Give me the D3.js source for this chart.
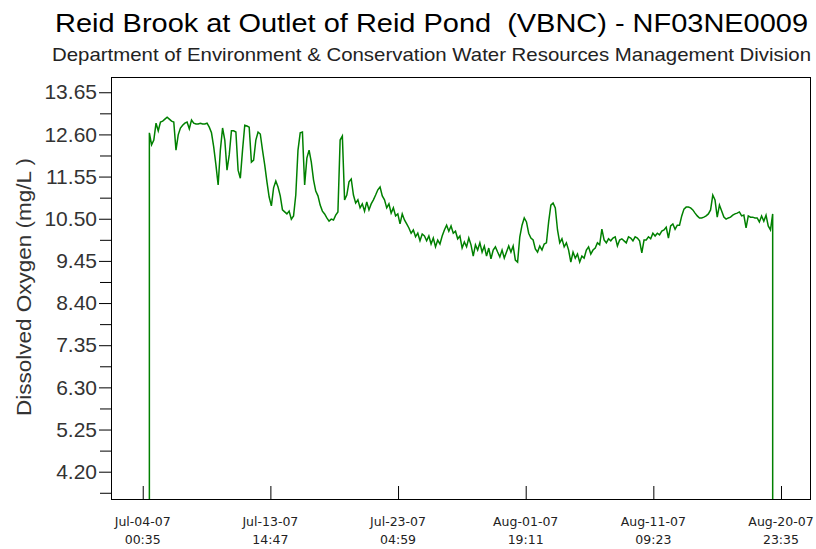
<!DOCTYPE html>
<html>
<head>
<meta charset="utf-8">
<script src="https://cdn.jsdelivr.net/npm/d3@7"></script>
<style>
  body { margin: 0; background: #fff; }
  svg { display: block; }
</style>
</head>
<body>
<svg id="chart" width="816" height="549"></svg>
<script>
// dissolved oxygen (mg/L), one reading every 4 hours starting Jul-04-07 12:35
const readings = [
  12.64, 12.34, 12.46, 12.88, 12.69, 12.91, 12.93, 12.98, 13.03, 12.98,
  12.93, 12.91, 12.21, 12.59, 12.76, 12.83, 12.88, 12.91, 12.74, 12.96,
  12.88, 12.86, 12.86, 12.88, 12.86, 12.86, 12.88, 12.78, 12.64, 12.29,
  11.84, 11.34, 12.21, 12.76, 12.46, 11.71, 12.09, 12.69, 12.69, 12.66,
  11.71, 11.51, 12.21, 12.83, 12.81, 12.78, 11.91, 11.96, 12.46, 12.66,
  12.61, 12.21, 11.84, 11.42, 11.04, 10.82, 11.27, 11.44, 11.29, 11.07,
  10.72, 10.67, 10.62, 10.69, 10.49, 10.57, 11.09, 12.21, 12.64, 12.66,
  11.34, 12.01, 12.21, 11.91, 11.47, 11.19, 11.07, 10.84, 10.69, 10.62,
  10.52, 10.44, 10.49, 10.47, 10.59, 10.67, 12.46, 12.56, 10.97, 11.09,
  11.42, 11.49, 11.09, 10.89, 10.97, 10.77, 10.87, 10.69, 10.92, 10.72,
  10.87, 10.97, 11.09, 11.22, 11.29, 11.07, 10.97, 10.77, 10.87, 10.64,
  10.77, 10.57, 10.62, 10.37, 10.62, 10.47, 10.37, 10.27, 10.14, 10.22,
  10.05, 10.14, 9.95, 10.12, 10.07, 9.95, 10.07, 9.87, 10.02, 9.80,
  9.97, 9.87, 10.07, 10.22, 10.34, 10.19, 10.32, 10.14, 10.19, 10.00,
  10.07, 9.77, 9.92, 9.80, 10.02, 9.85, 9.57, 9.85, 9.72, 9.90,
  9.67, 9.82, 9.57, 9.77, 9.50, 9.72, 9.80, 9.67, 9.55, 9.72,
  9.52, 9.67, 9.82, 9.67, 9.82, 9.47, 9.42, 10.05, 10.34, 10.52,
  10.42, 10.14, 10.02, 9.97, 9.75, 9.67, 9.82, 9.72, 9.87, 9.90,
  10.42, 10.84, 10.89, 10.77, 10.22, 9.90, 10.00, 9.80, 9.90, 9.72,
  9.42, 9.67, 9.52, 9.62, 9.42, 9.57, 9.52, 9.72, 9.80, 9.62,
  9.72, 9.77, 9.90, 9.85, 10.24, 9.97, 9.90, 10.00, 9.95, 10.02,
  10.05, 9.82, 9.97, 10.00, 9.95, 9.90, 10.05, 10.02, 9.95, 10.05,
  10.02, 9.95, 9.65, 9.97, 9.97, 10.05, 10.00, 10.14, 10.07, 10.14,
  10.10, 10.19, 10.22, 10.29, 10.02, 10.32, 10.37, 10.24, 10.34, 10.34,
  10.57, 10.74, 10.79, 10.79, 10.77, 10.72, 10.64, 10.57, 10.52, 10.52,
  10.54, 10.57, 10.62, 10.72, 11.09, 10.97, 10.54, 10.84, 10.69, 10.54,
  10.49, 10.52, 10.54, 10.59, 10.62, 10.64, 10.67, 10.57, 10.59, 10.27,
  10.57, 10.54, 10.54, 10.52, 10.52, 10.42, 10.57, 10.44, 10.59, 10.32,
  10.22, 10.62
];
const firstReading = new Date(2007, 6, 4, 12, 35);
const stepHours = 4;
const outOfWater = 0; // logger reading before deployment / after pickup

const yTicks = [4.20, 5.25, 6.30, 7.35, 8.40, 9.45, 10.50, 11.55, 12.60, 13.65];
const xTicks = [
  new Date(2007, 6, 4, 0, 35),
  new Date(2007, 6, 13, 14, 47),
  new Date(2007, 6, 23, 4, 59),
  new Date(2007, 7, 1, 19, 11),
  new Date(2007, 7, 11, 9, 23),
  new Date(2007, 7, 20, 23, 35)
];

const title = "Reid Brook at Outlet of Reid Pond  (VBNC) - NF03NE0009";
const subtitle = "Department of Environment & Conservation Water Resources Management Division";
const yLabel = "Dissolved Oxygen (mg/L )";

// build points
let points = readings.map((v, i) => ({t: d3.timeHour.offset(firstReading, i * stepHours), v: v}));
points.unshift({t: points[0].t, v: outOfWater});
points.push({t: points[points.length - 1].t, v: outOfWater});

const plot = {left: 111, top: 77, right: 811, bottom: 500};

const x = d3.scaleTime()
    .domain([new Date(2007, 6, 1, 15, 23), new Date(2007, 7, 23, 5, 41)])
    .range([plot.left, plot.right]);
const y = d3.scaleLinear()
    .domain([3.495, 14.03])
    .range([plot.bottom, plot.top]);

const svg = d3.select("#chart");
const font = "'Liberation Sans', Arial, sans-serif";

svg.append("text")
    .attr("x", 55).attr("y", 32)
    .attr("textLength", 753).attr("lengthAdjust", "spacingAndGlyphs")
    .style("white-space", "pre")
    .attr("font-family", font).attr("font-size", 25).attr("fill", "#000")
    .text(title);

svg.append("text")
    .attr("x", 52).attr("y", 61)
    .attr("textLength", 759).attr("lengthAdjust", "spacingAndGlyphs")
    .attr("font-family", font).attr("font-size", 19).attr("fill", "#222")
    .text(subtitle);

svg.append("defs").append("clipPath").attr("id", "plotClip")
  .append("rect")
    .attr("x", plot.left).attr("y", plot.top)
    .attr("width", plot.right - plot.left).attr("height", plot.bottom - plot.top);

// y axis, major + minor ticks
const yAxis = svg.append("g")
    .attr("transform", `translate(${plot.left},0)`)
    .call(d3.axisLeft(y).tickValues(yTicks).tickSize(12).tickPadding(2).tickFormat(d3.format(".2f")));
yAxis.select(".domain").remove();
yAxis.selectAll("text").attr("font-family", font).attr("font-size", 21).attr("fill", "#333");
yAxis.selectAll("line").attr("stroke", "#000");

svg.append("g")
    .attr("transform", `translate(${plot.left},0)`)
    .call(d3.axisLeft(y).tickValues(yTicks.map(d => d - 0.525)).tickSize(11).tickFormat(""))
    .call(g => g.select(".domain").remove())
    .selectAll("line").attr("stroke", "#000");

// x axis: ticks point up into the plot, two line labels
const fmtDay = d3.timeFormat("%b-%d-%y"), fmtTime = d3.timeFormat("%H:%M");
const xAxis = svg.append("g")
    .attr("transform", `translate(0,${plot.bottom})`)
    .call(d3.axisBottom(x).tickValues(xTicks).tickSize(-14).tickFormat(""));
xAxis.select(".domain").remove();
xAxis.selectAll("line").attr("stroke", "#000");

const lbl = svg.append("g")
    .attr("font-family", "'DejaVu Sans', Verdana, sans-serif")
    .attr("font-size", 12.5).attr("fill", "#222").attr("text-anchor", "middle");
xTicks.forEach(d => {
  lbl.append("text").attr("x", x(d)).attr("y", 526).text(fmtDay(d));
  lbl.append("text").attr("x", x(d)).attr("y", 544).text(fmtTime(d));
});

svg.append("text")
    .attr("transform", "translate(31,287) rotate(-90)")
    .attr("text-anchor", "middle")
    .attr("textLength", 258).attr("lengthAdjust", "spacingAndGlyphs")
    .attr("font-family", font).attr("font-size", 21).attr("fill", "#333")
    .text(yLabel);

// series
const line = d3.line().x(d => x(d.t)).y(d => y(d.v));
svg.append("path")
    .datum(points)
    .attr("clip-path", "url(#plotClip)")
    .attr("fill", "none")
    .attr("stroke", "#008000")
    .attr("stroke-width", 1.5)
    .attr("d", line);

// frame
svg.append("rect")
    .attr("x", plot.left + 0.5).attr("y", plot.top + 0.5)
    .attr("width", plot.right - plot.left - 1).attr("height", plot.bottom - plot.top - 1)
    .attr("fill", "none").attr("stroke", "#000");
</script>
</body>
</html>
